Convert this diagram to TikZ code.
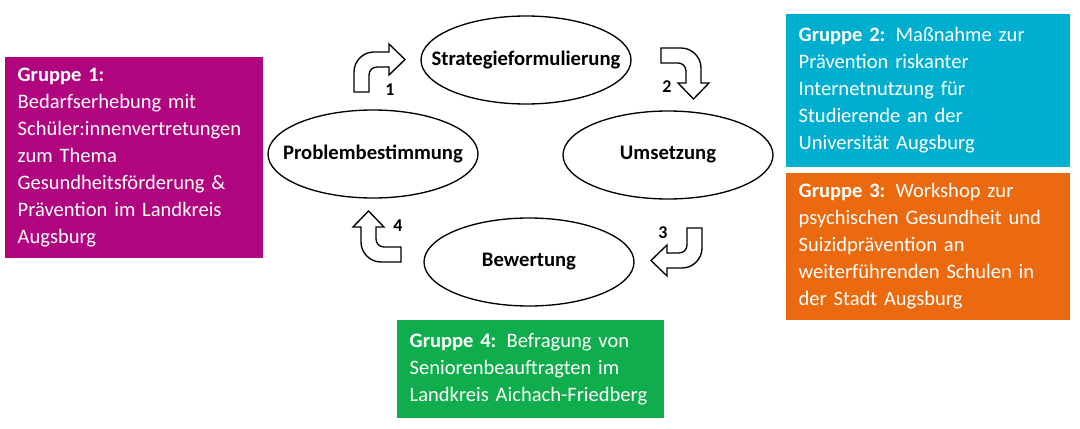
\documentclass[tikz,border=0pt]{standalone}
\usepackage{fontspec}
\setmainfont{Carlito}
\usetikzlibrary{shapes.geometric}
\definecolor{grpone}{HTML}{B0057F}
\definecolor{grptwo}{HTML}{00AECF}
\definecolor{grpthree}{HTML}{EB690F}
\definecolor{grpfour}{HTML}{10AD4C}

\tikzset{
  phase/.style={ellipse, draw, line width=1pt, minimum width=157.5pt, minimum height=66pt,
    inner xsep=-20pt, inner ysep=0pt, font=\bfseries\fontsize{15.5pt}{18pt}\selectfont},
  group/.style={rectangle, fill=#1, text=white, align=left, inner xsep=9.5pt, inner ysep=0pt,
    font=\fontsize{15.4pt}{20.25pt}\selectfont},
  turn/.style={draw, fill=white, line width=1pt},
  num/.style={font=\bfseries\fontsize{13.5pt}{16pt}\selectfont}
}

\newcommand{\bentarrow}[1]{%
  \draw[turn, #1] (0,0) -- (0,-20) .. controls (0,-31) and (9,-40) .. (20,-40) -- (35,-40)
    -- (35,-48) -- (51,-32.5) -- (35,-17) -- (35,-25) -- (23,-25)
    .. controls (18.5,-25) and (15,-21.5) .. (15,-17) -- (15,0) -- cycle;}

\begin{document}
\begin{tikzpicture}[x=0.75pt, y=-0.75pt]
      \useasboundingbox (0,0) rectangle (1080,428);

      \node (strat) [phase] at (526, 60) {Strategieformulierung};
      \node (ums) [phase] at (668, 155) {Umsetzung};
      \node (bew) [phase] at (529, 262) {Bewertung};
      \node (prob) [phase] at (373, 154) {Problembestimmung};

      \bentarrow{shift={(354,92)}}
      \bentarrow{shift={(661,48)}, rotate=-90}
      \bentarrow{shift={(702,228)}, rotate=180}
      \bentarrow{shift={(401,262)}, rotate=90}

      \node (n1) [num] at (390, 90) {1};
      \node (n2) [num] at (667, 87) {2};
      \node (n3) [num] at (663, 233) {3};
      \node (n4) [num] at (398, 226) {4};

      \node (g1) [group=grpone, text width=174.5pt, minimum height=150.75pt] at (134, 157.5) {
        \textbf{Gruppe 1:}\\
        Bedarfserhebung mit\\
        Schüler:innenvertretungen\\
        zum Thema\\
        Gesundheitsförderung \&\\
        Prävention im Landkreis\\
        Augsburg
      };
      \node (g2) [group=grptwo, text width=194pt, minimum height=114.75pt] at (928, 90.5) {
        \textbf{Gruppe 2:} Maßnahme zur\\
        Prävention riskanter\\
        Internetnutzung für\\
        Studierende an der\\
        Universität Augsburg
      };
      \node (g3) [group=grpthree, text width=194pt, minimum height=110.25pt] at (928, 246.5) {
        \textbf{Gruppe 3:} Workshop zur\\
        psychischen Gesundheit und\\
        Suizidprävention an\\
        weiterführenden Schulen in\\
        der Stadt Augsburg
      };
      \node (g4) [group=grpfour, text width=181.25pt, minimum height=73.5pt] at (530.5, 369) {
        \textbf{Gruppe 4:} Befragung von\\
        Seniorenbeauftragten im\\
        Landkreis Aichach-Friedberg
      };
\end{tikzpicture}
\end{document}
